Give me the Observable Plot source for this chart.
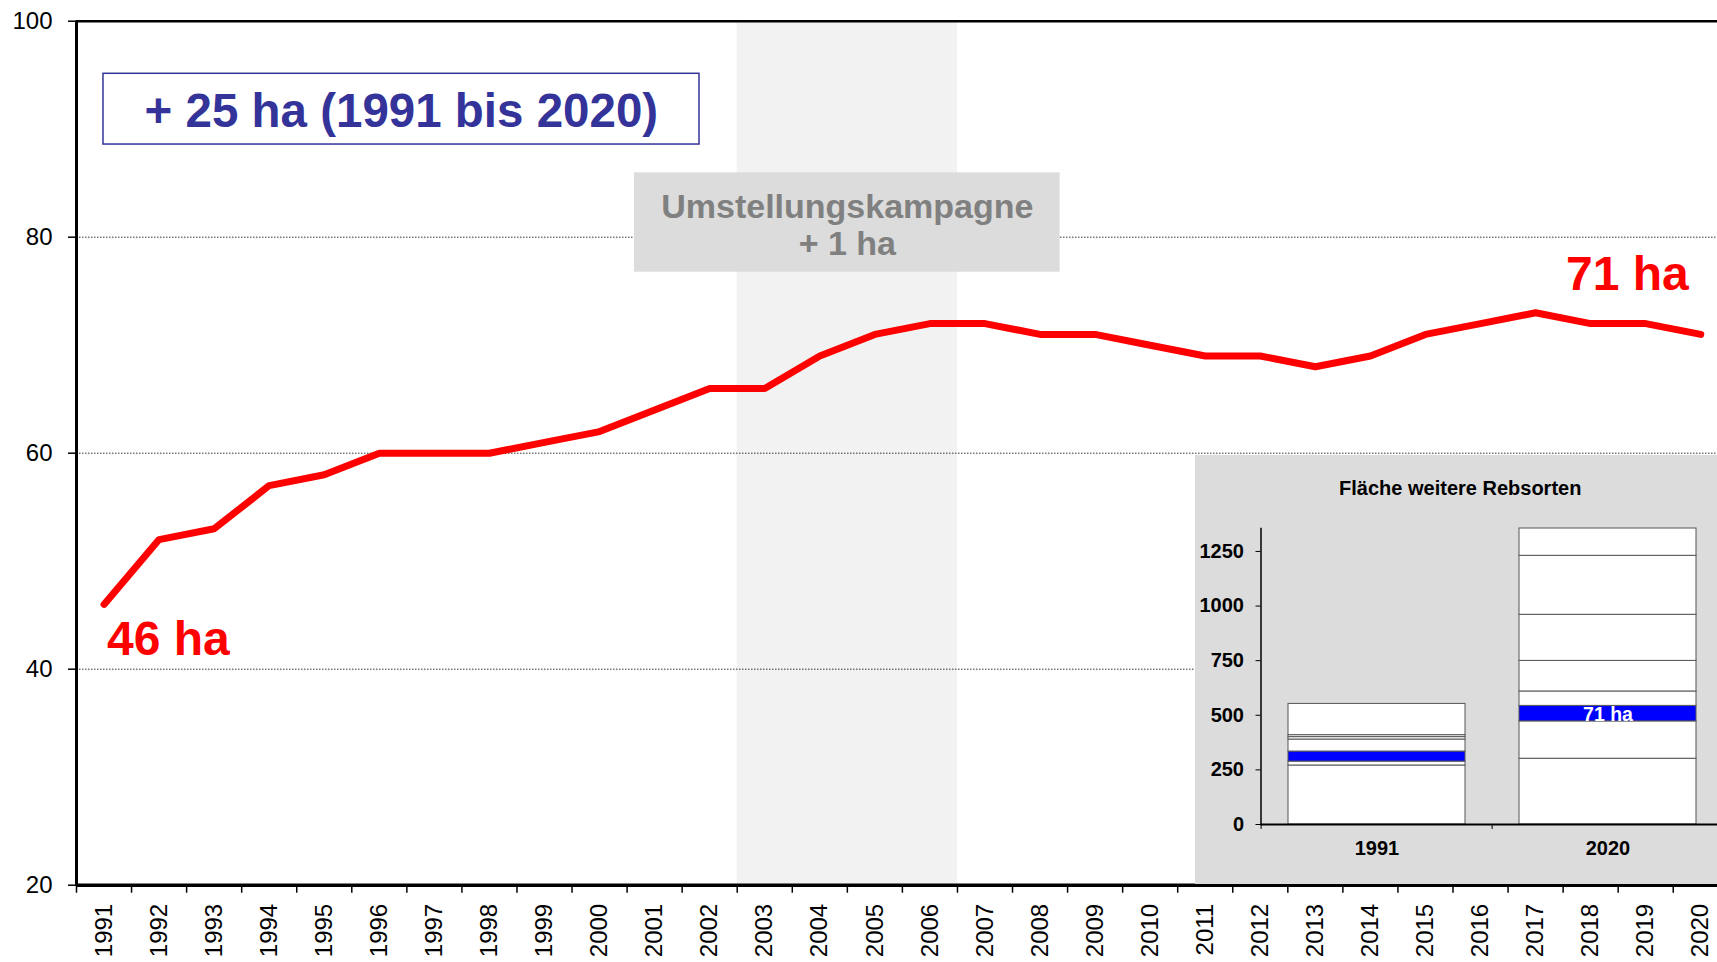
<!DOCTYPE html>
<html>
<head>
<meta charset="utf-8">
<script src="https://cdn.jsdelivr.net/npm/d3@7"></script>
<script src="https://cdn.jsdelivr.net/npm/@observablehq/plot@0.6"></script>
<style>
  body { margin: 0; background: #ffffff; }
  #wrap { position: relative; width: 1717px; height: 962px; overflow: hidden; background: #ffffff; }
  #main { position: absolute; left: 0; top: 0; }
  #inset { position: absolute; left: 1195px; top: 455px; }
</style>
</head>
<body>
<div id="wrap"><div id="main"></div><div id="inset"></div></div>
<script>
// ---- main series ----
const years = [1991,1992,1993,1994,1995,1996,1997,1998,1999,2000,
               2001,2002,2003,2004,2005,2006,2007,2008,2009,2010,
               2011,2012,2013,2014,2015,2016,2017,2018,2019,2020];
const area  = [46,52,53,57,58,60,60,60,61,62,
               64,66,66,69,71,72,72,71,71,70,
               69,69,68,69,71,72,73,72,72,71];
const campaignYears = [2003, 2006];
const yTicks = [20, 40, 60, 80, 100];
const gridValues = [40, 60, 80];
const startLabel = "46 ha";
const endLabel = "71 ha";
const totalLabel = "+ 25 ha (1991 bis 2020)";
const campaignLabel = "Umstellungskampagne\n+ 1 ha";

// ---- inset series ----
const insetTitle = "Fläche weitere Rebsorten";
const insetYears = ["1991", "2020"];
const insetSegments1991 = [270, 18, 46, 55, 11, 9, 143];
const insetSegments2020 = [301, 171, 71, 66, 140, 211, 270, 125];
const insetBlueIndex = [2, 2];
const insetBlueLabel = [null, "71 ha"];
const insetTicks = [0, 250, 500, 750, 1000, 1250];

const FONT = "'Liberation Sans', Arial, Helvetica, sans-serif";
const rows = years.map((year, i) => ({year, ha: area[i]}));
const first = rows[0], last = rows[rows.length - 1];
const campaignMid = (campaignYears[0] + campaignYears[1]) / 2;

const main = Plot.plot({
  width: 1717, height: 962,
  marginLeft: 76, marginRight: 0, marginTop: 20.7, marginBottom: 77.3,
  style: {fontFamily: FONT, background: "#ffffff", color: "#000000"},
  x: {domain: [years[0] - 0.5, years[years.length - 1] + 0.5], range: [76, 1727.8], label: null},
  y: {domain: [yTicks[0], yTicks[yTicks.length - 1]], label: null},
  marks: [
    Plot.rect([campaignYears], {x1: d => d[0] - 0.5, x2: d => d[1] + 0.5, y1: yTicks[0], y2: yTicks[yTicks.length - 1], fill: "#f2f2f2"}),
    Plot.ruleY(gridValues, {stroke: "#333333", strokeDasharray: "1.5,1.5", strokeWidth: 1}),
    // "+ 25 ha" box
    Plot.rect([totalLabel], {x1: 1990.99, x2: 2001.815, y1: 88.58, y2: 95.13, fill: "#ffffff", stroke: "#333399", strokeWidth: 1.5}),
    Plot.text([totalLabel], {x: 1996.4, y: 91.6, text: d => d, fontSize: 47.5, fontWeight: "bold", fill: "#333399", lineAnchor: "middle"}),
    // campaign box
    Plot.rect([campaignLabel], {x1: campaignMid - 3.865, x2: campaignMid + 3.865, y1: 76.76, y2: 85.96, fill: "#dcdcdc"}),
    Plot.text([campaignLabel], {x: campaignMid, y: 81.15, text: d => d, fontSize: 34, lineHeight: 1.1, fontWeight: "bold", fill: "#808080", lineAnchor: "middle"}),
    // frame lines
    Plot.ruleY([yTicks[yTicks.length - 1]], {stroke: "#000000", strokeWidth: 2.5}),
    Plot.ruleX([years[0] - 0.5], {stroke: "#000000", strokeWidth: 3}),
    // data line
    Plot.line(rows, {x: "year", y: "ha", stroke: "#ff0000", strokeWidth: 7, strokeLinejoin: "round", strokeLinecap: "round"}),
    Plot.text([first], {x: "year", y: "ha", text: () => startLabel, textAnchor: "start", dx: 3, dy: 35, fontSize: 48, fontWeight: "bold", fill: "#ff0000"}),
    Plot.text([last], {x: "year", y: "ha", text: () => endLabel, textAnchor: "end", dx: -12, dy: -60, fontSize: 48, fontWeight: "bold", fill: "#ff0000"}),
    // axes
    Plot.axisY({ticks: yTicks, tickSize: 8, tickPadding: 16, fontSize: 24, strokeWidth: 1.5, label: null}),
    Plot.axisX({ticks: years, tickSize: 0, tickPadding: 18.6, tickRotate: -90, fontSize: 24, tickFormat: d => String(d), label: null}),
    Plot.axisX({ticks: years.map(y => y - 0.5).concat([years[years.length - 1] + 0.5]), tickSize: 8, strokeWidth: 1.5, tickFormat: () => "", label: null}),
    Plot.ruleY([yTicks[0]], {stroke: "#000000", strokeWidth: 3.5})
  ]
});
document.getElementById("main").appendChild(main);

// ---- inset ----
const insetRows = [];
insetYears.forEach((yr, j) => {
  const segs = j === 0 ? insetSegments1991 : insetSegments2020;
  segs.forEach((v, k) => insetRows.push({
    year: yr, value: v,
    blue: k === insetBlueIndex[j],
    label: k === insetBlueIndex[j] ? insetBlueLabel[j] : null
  }));
});

const inset = Plot.plot({
  width: 522, height: 429,
  marginLeft: 65.5, marginRight: 0, marginTop: 73, marginBottom: 60,
  style: {fontFamily: FONT, background: "#dcdcdc", color: "#000000"},
  x: {type: "band", domain: insetYears, range: [65.5, 529], paddingInner: 0.234, paddingOuter: 0.117, label: null},
  y: {domain: [0, 1355], label: null},
  color: {type: "identity"},
  marks: [
    Plot.barY(insetRows, {x: "year", y: "value", fill: d => d.blue ? "#0000ff" : "#ffffff", stroke: "#555555", strokeWidth: 1}),
    Plot.text(insetRows, Plot.stackY({x: "year", y: "value", text: "label", fill: "#ffffff", fontSize: 19.5, fontWeight: "bold", dy: 1})),
    Plot.ruleY([0], {stroke: "#000000", strokeWidth: 2}),
    Plot.frame({anchor: "left", stroke: "#000000", strokeWidth: 1.5}),
    Plot.axisY({ticks: insetTicks, tickSize: 5, tickPadding: 12, fontSize: 20, fontWeight: "bold", tickFormat: d => String(d), label: null}),
    Plot.axisX({tickSize: 0, tickPadding: 16, fontSize: 20, fontWeight: "bold", label: null}),
    Plot.axisX({tickSize: 5, tickFormat: () => "", dx: -115.9, label: null}),
    Plot.text([insetTitle], {frameAnchor: "top", text: d => d, dy: -48, dx: -29, lineAnchor: "top", fontSize: 20, fontWeight: "bold"})
  ]
});
document.getElementById("inset").appendChild(inset);
</script>
</body>
</html>
